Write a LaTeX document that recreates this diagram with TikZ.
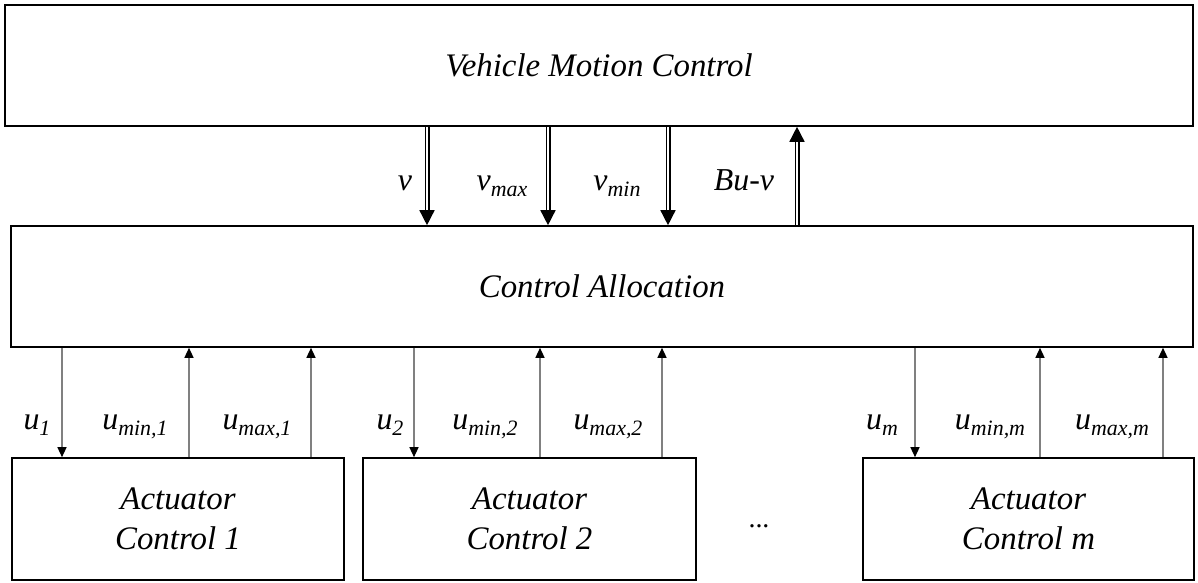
\documentclass[tikz,border=0pt]{standalone}
\usepackage{fontspec}
\setmainfont{Liberation Serif}
\usetikzlibrary{arrows.meta}
\newcommand{\lsub}[2]{#1\raisebox{-6bp}{\fontsize{22}{22}\selectfont #2}}
\begin{document}
\begin{tikzpicture}[x=1bp,y=-1bp,
  blk/.style={draw, line width=1.6bp, inner sep=0pt, align=center,
    font=\fontsize{33}{40}\selectfont\itshape},
  dbl/.style={double, double distance=2bp, line width=1.5bp,
    -{Triangle[width=15bp,length=15bp]}},
  sgl/.style={draw=black!50, line width=1.3bp,
    -{Triangle[black,width=9bp,length=10bp]}},
  lab/.style={anchor=base, inner sep=0pt, font=\fontsize{32}{32}\selectfont\itshape}]
\useasboundingbox (0,0) rectangle (1198,583);

% blocks
\node[blk, minimum width=1188bp, minimum height=121bp] (vmc) at (599,65.5) {Vehicle Motion Control};
\node[blk, minimum width=1182bp, minimum height=121bp] (ca) at (602,286.5) {Control Allocation};
\node[blk, minimum width=332bp, minimum height=122bp] (ac1) at (178,519) {Actuator\\Control 1};
\node[blk, minimum width=333bp, minimum height=122bp] (ac2) at (529.5,519) {Actuator\\Control 2};
\node[blk, minimum width=331bp, minimum height=122bp] (acm) at (1028.5,519) {Actuator\\Control m};
\node[inner sep=0pt, font=\fontsize{28}{28}\selectfont] (dots) at (759,526) {...};

% double arrows between VMC and CA
\draw[dbl] (427,0 |- vmc.south) -- (427,0 |- ca.north);
\draw[dbl] (548,0 |- vmc.south) -- (548,0 |- ca.north);
\draw[dbl] (668,0 |- vmc.south) -- (668,0 |- ca.north);
\draw[dbl] (797,0 |- ca.north) -- (797,0 |- vmc.south);

\node[lab] (lv) at (405,191) {v};
\node[lab] (lvmax) at (502,191) {\lsub{v}{max}};
\node[lab] (lvmin) at (617,191) {\lsub{v}{min}};
\node[lab] (lbuv) at (744,191) {Bu-v};

% single arrows: actuator 1
\draw[sgl] (62,0 |- ca.south) -- (62,0 |- ac1.north);
\draw[sgl] (189,0 |- ac1.north) -- (189,0 |- ca.south);
\draw[sgl] (311,0 |- ac1.north) -- (311,0 |- ca.south);
% actuator 2
\draw[sgl] (414,0 |- ca.south) -- (414,0 |- ac2.north);
\draw[sgl] (540,0 |- ac2.north) -- (540,0 |- ca.south);
\draw[sgl] (662,0 |- ac2.north) -- (662,0 |- ca.south);
% actuator m
\draw[sgl] (915,0 |- ca.south) -- (915,0 |- acm.north);
\draw[sgl] (1040,0 |- acm.north) -- (1040,0 |- ca.south);
\draw[sgl] (1163,0 |- acm.north) -- (1163,0 |- ca.south);

\node[lab] (lu1) at (37,429) {\lsub{u}{1}};
\node[lab] (lumin1) at (135,429) {\lsub{u}{min,1}};
\node[lab] (lumax1) at (257,429) {\lsub{u}{max,1}};
\node[lab] (lu2) at (390,429) {\lsub{u}{2}};
\node[lab] (lumin2) at (485,429) {\lsub{u}{min,2}};
\node[lab] (lumax2) at (608,429) {\lsub{u}{max,2}};
\node[lab] (lum) at (882,429) {\lsub{u}{m}};
\node[lab] (luminm) at (990,429) {\lsub{u}{min,m}};
\node[lab] (lumaxm) at (1112,429) {\lsub{u}{max,m}};
\end{tikzpicture}
\end{document}
